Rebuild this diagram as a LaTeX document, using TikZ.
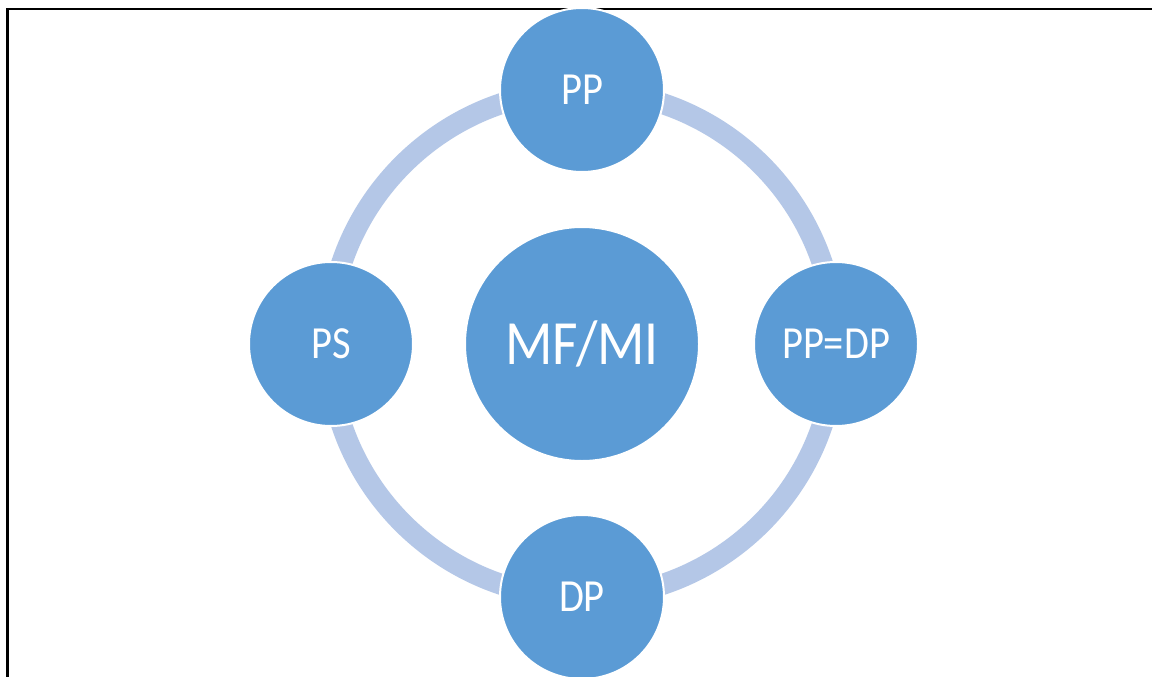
\documentclass[tikz,border=0pt]{standalone}
\usepackage{graphicx}
\usepackage{fontspec}
\setmainfont{Carlito}
\definecolor{cfill}{HTML}{5B9BD5}
\definecolor{cring}{HTML}{B4C7E7}
\newcommand{\narrowtext}[1]{\scalebox{0.88}[1]{#1}}
\tikzset{
  small/.style={circle, fill=cfill, draw=white, line width=2pt, minimum size=164pt, inner sep=0pt, text=white, font=\fontsize{46}{50}\selectfont},
  big/.style={circle, fill=cfill, draw=white, line width=2pt, minimum size=234pt, inner sep=0pt, text=white, font=\fontsize{63}{70}\selectfont},
  ring/.style={draw=cring, line width=21pt},
  frame/.style={draw=black}
}
\begin{document}
\begin{tikzpicture}[x=1pt,y=-1pt]
\useasboundingbox (0,0) rectangle (1152,677);
\fill[white] (0,0) rectangle (1152,677);
\coordinate (tl) at (7.5,9);
\coordinate (tr) at (1152,9);
\coordinate (bl) at (7.5,677);
\draw[frame, line width=2pt] (6,9) -- (tr);
\draw[frame, line width=3.5pt] (tl) -- (bl);
\coordinate (c) at (582,344);
\draw[ring] (c) circle[radius=253.5pt];
\node[big] (mf) at (c) {\narrowtext{MF/MI}};
\node[small] (pp) at (582,90) {\narrowtext{PP}};
\node[small] (ppdp) at (836,344) {\narrowtext{PP=DP}};
\node[small] (dp) at (582,597) {\narrowtext{DP}};
\node[small] (ps) at (331,344) {\narrowtext{PS}};
\end{tikzpicture}
\end{document}
